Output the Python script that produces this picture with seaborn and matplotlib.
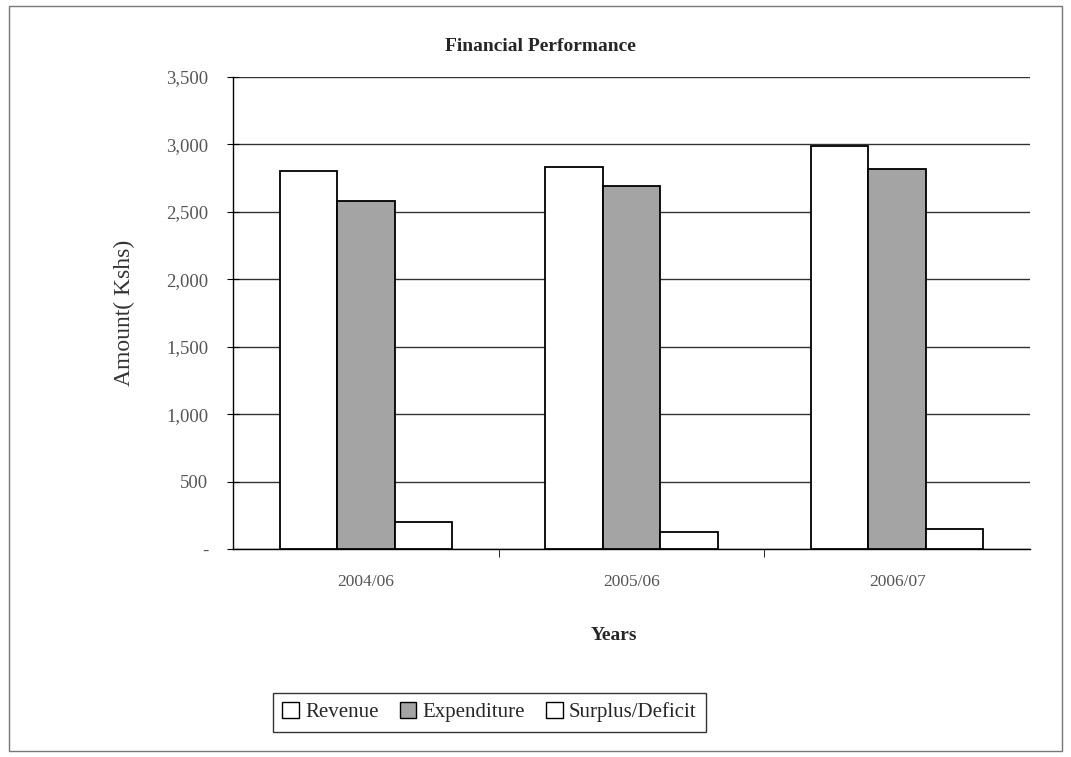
import matplotlib
matplotlib.use("Agg")
import matplotlib.pyplot as plt
import matplotlib.patches as mpatches
import pandas as pd
import seaborn as sns
from matplotlib.ticker import FuncFormatter, MultipleLocator

years = ["2004/06", "2005/06", "2006/07"]
revenue = [2805, 2830, 2985]
expenditure = [2580, 2695, 2820]
surplus = [200, 125, 150]
series = ["Revenue", "Expenditure", "Surplus/Deficit"]

df = pd.DataFrame({
    "year": years * 3,
    "series": [s for s in series for _ in years],
    "amount": revenue + expenditure + surplus,
})

sns.set_style("white")
plt.rcParams["font.family"] = ["Liberation Serif", "DejaVu Serif"]

fig = plt.figure(figsize=(10.71, 7.57), dpi=100)
ax = fig.add_axes([0.2176, 0.2748, 0.7441, 0.6235])

colors = {"Revenue": "white", "Expenditure": "#a4a4a4", "Surplus/Deficit": "white"}
sns.barplot(data=df, x="year", y="amount", hue="series", hue_order=series,
            palette=colors, edgecolor="black", linewidth=1.3, width=0.65,
            saturation=1, ax=ax, legend=False, zorder=3)

ax.set_ylim(0, 3500)
ax.yaxis.set_major_locator(MultipleLocator(500))
ax.yaxis.set_major_formatter(FuncFormatter(lambda v, p: "-" if v == 0 else f"{int(v):,}"))
ax.grid(axis="y", color="#333333", linewidth=1.0, zorder=0)
ax.set_axisbelow(True)
ax.set_xlim(-0.5, 2.5)

for s in ["top", "right"]:
    ax.spines[s].set_visible(False)
for s in ["left", "bottom"]:
    ax.spines[s].set_color("black")
    ax.spines[s].set_linewidth(1.0)

ax.tick_params(axis="y", direction="inout", length=8, color="black", labelsize=13.5,
               labelcolor="#555555", left=True, pad=14)
ax.set_xticks([0, 1, 2])
ax.set_xticklabels(years)
ax.set_xticks([0.5, 1.5], minor=True)
ax.tick_params(axis="x", which="major", length=0, labelsize=12.5, labelcolor="#555555", pad=18)
ax.tick_params(axis="x", which="minor", direction="out", length=6, color="black", bottom=True)

ax.set_xlabel("")
ax.set_ylabel("Amount( Kshs)", fontsize=17, color="#333333", labelpad=22)
fig.text(0.505, 0.938, "Financial Performance", ha="center", va="center",
         fontsize=14, fontweight="bold")
fig.text(0.573, 0.16, "Years", ha="center", va="center", fontsize=14, fontweight="bold")

handles = [mpatches.Patch(facecolor=colors[s], edgecolor="black", linewidth=1.0, label=s)
           for s in series]
leg = fig.legend(handles=handles, loc="center", bbox_to_anchor=(0.457, 0.059), ncol=3,
                 frameon=True, fancybox=False, fontsize=15, handlelength=0.8,
                 handleheight=0.8, handletextpad=0.3, columnspacing=1.0,
                 borderpad=0.45, edgecolor="black")
leg.get_frame().set_linewidth(1.0)

fig.patches.append(mpatches.Rectangle((0.008, 0.008), 0.984, 0.984, transform=fig.transFigure,
                                      fill=False, edgecolor="#777777", linewidth=1.0))

fig.savefig("out.png", dpi=100)
